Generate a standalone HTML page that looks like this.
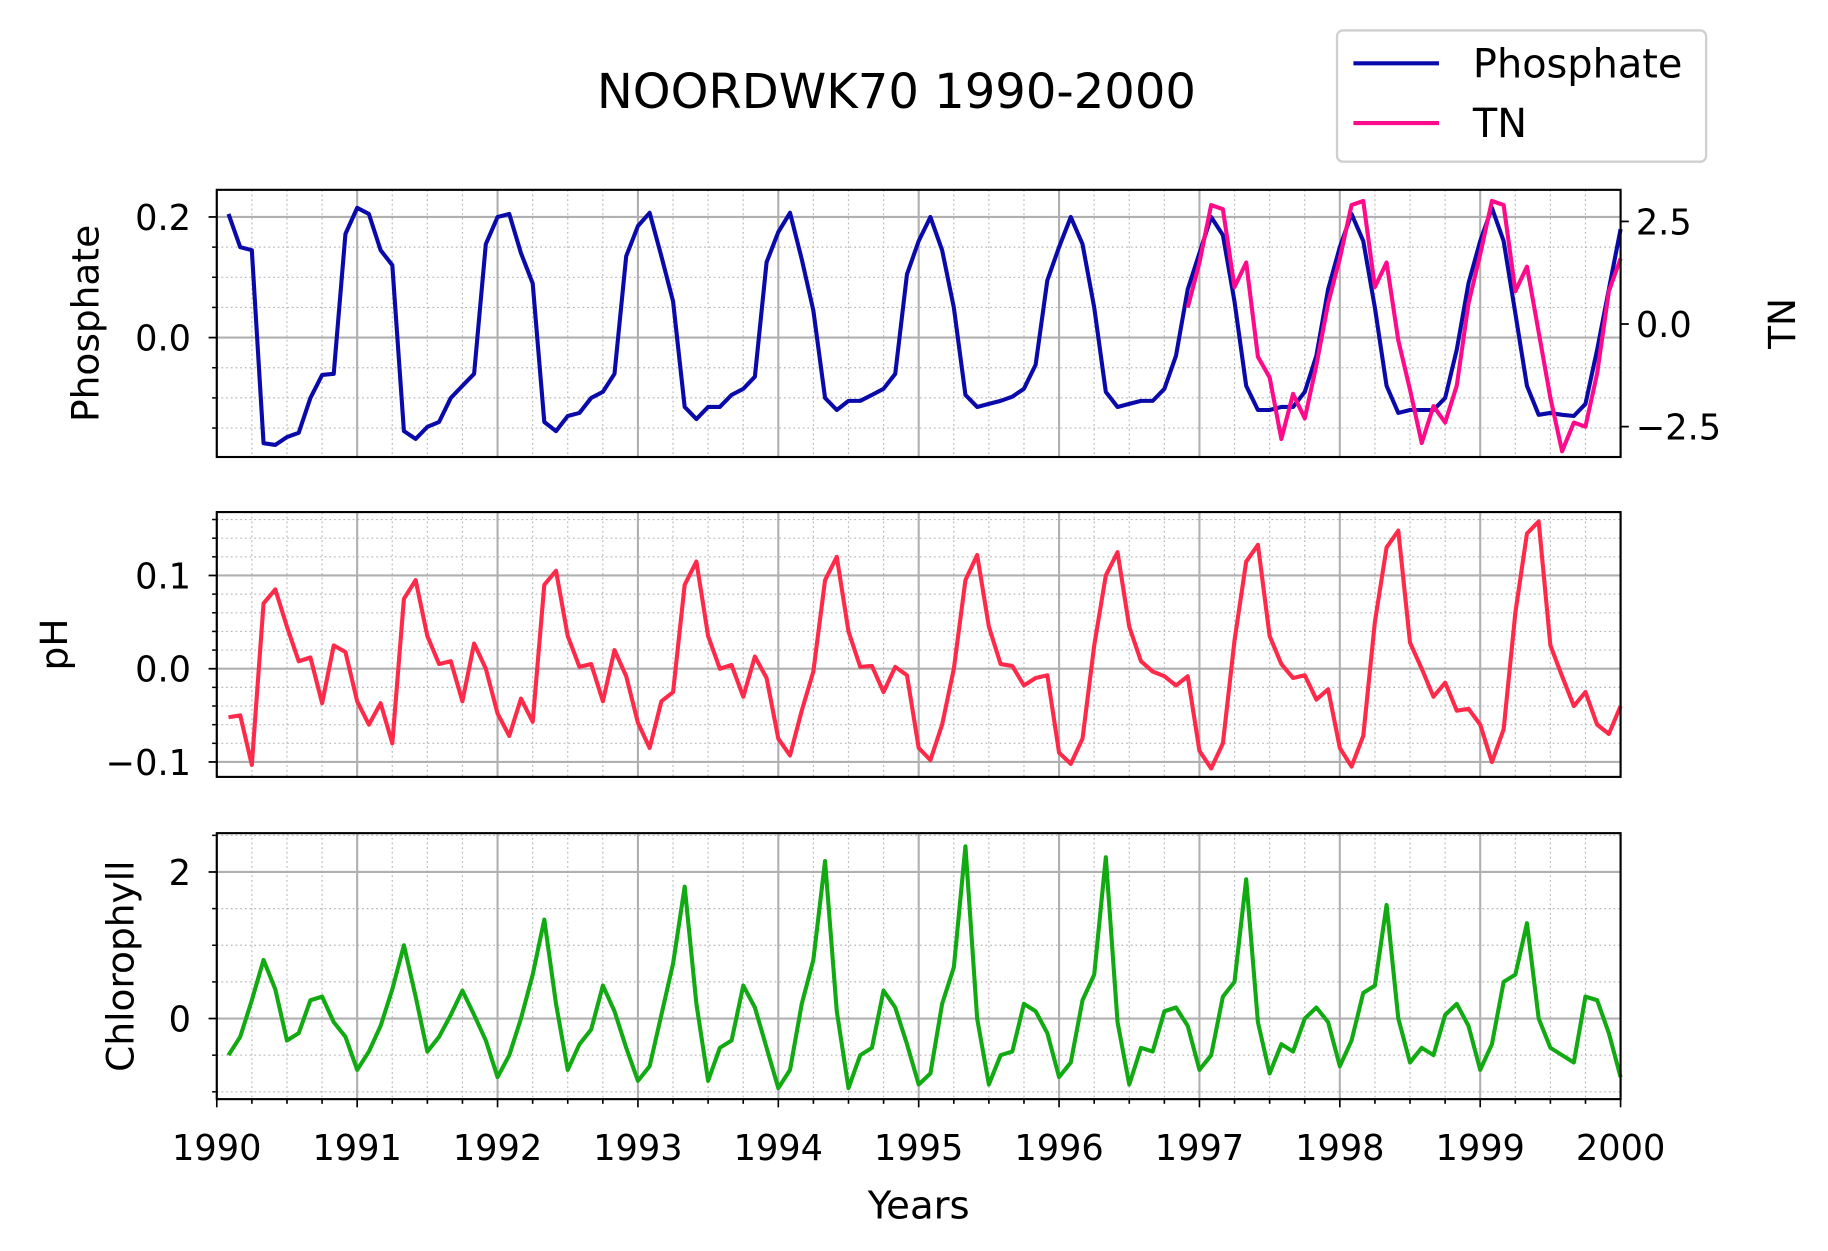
<!DOCTYPE html>
<html><head><meta charset="utf-8"><style>
html,body{margin:0;padding:0;background:#fff;}
svg{display:block;font-family:"DejaVu Sans","Liberation Sans",sans-serif;}
</style></head><body>
<svg id="chart" width="1828" height="1251" viewBox="0 0 1560 1067.6" xmlns="http://www.w3.org/2000/svg">
<text x="765" y="92" font-size="41" text-anchor="middle">NOORDWK70 1990-2000</text>
<g>
<rect x="1141" y="26" width="315" height="112" rx="5" fill="#fff" stroke="#d0d0d0" stroke-width="2"/>
<line x1="1155" y1="54" x2="1228" y2="54" stroke="#0a0aaa" stroke-width="3.5"/>
<text x="1257" y="66" font-size="34">Phosphate</text>
<line x1="1155" y1="105" x2="1228" y2="105" stroke="#ff0a8a" stroke-width="3.5"/>
<text x="1257" y="117" font-size="34">TN</text>
</g>
<g id="plots"></g>
<text x="784" y="1040" font-size="33" text-anchor="middle">Years</text>
</svg>
<script>
const phosphate=[0.205,0.15,0.145,-0.175,-0.178,-0.165,-0.158,-0.10,-0.062,-0.06,0.172,0.215,
0.205,0.145,0.12,-0.155,-0.168,-0.148,-0.14,-0.10,-0.08,-0.06,0.155,0.20,
0.205,0.14,0.09,-0.14,-0.155,-0.13,-0.125,-0.10,-0.09,-0.06,0.135,0.185,
0.207,0.135,0.06,-0.115,-0.135,-0.115,-0.115,-0.095,-0.085,-0.065,0.125,0.175,
0.207,0.13,0.045,-0.10,-0.12,-0.105,-0.105,-0.095,-0.085,-0.06,0.105,0.16,
0.20,0.145,0.05,-0.095,-0.115,-0.11,-0.105,-0.098,-0.085,-0.045,0.095,0.15,
0.20,0.155,0.05,-0.09,-0.115,-0.11,-0.105,-0.105,-0.085,-0.03,0.08,0.14,
0.20,0.17,0.06,-0.08,-0.12,-0.12,-0.115,-0.115,-0.09,-0.03,0.08,0.15,
0.205,0.16,0.05,-0.08,-0.125,-0.12,-0.12,-0.12,-0.10,-0.02,0.09,0.16,
0.215,0.16,0.04,-0.08,-0.128,-0.125,-0.128,-0.13,-0.11,-0.02,0.08,0.18];
const tnStart=83;
const tn=[0.4,1.5,2.9,2.8,0.9,1.5,-0.8,-1.3,-2.8,-1.7,-2.3,-1.0,0.5,1.6,2.9,3.0,0.9,1.5,-0.4,-1.6,-2.9,-2.0,-2.4,-1.5,0.5,1.7,3.0,2.9,0.8,1.4,-0.2,-1.8,-3.1,-2.4,-2.5,-1.2,0.8,1.6];
const ph=[-0.052,-0.05,-0.103,0.07,0.085,0.045,0.008,0.012,-0.037,0.025,0.018,-0.035,
-0.06,-0.037,-0.08,0.075,0.095,0.035,0.005,0.008,-0.035,0.027,0.0,-0.048,
-0.072,-0.032,-0.057,0.09,0.105,0.035,0.002,0.005,-0.035,0.02,-0.008,-0.058,
-0.085,-0.035,-0.025,0.09,0.115,0.035,0.0,0.004,-0.03,0.013,-0.01,-0.075,
-0.093,-0.045,-0.003,0.095,0.12,0.04,0.002,0.003,-0.025,0.002,-0.007,-0.085,
-0.098,-0.06,0.0,0.095,0.122,0.045,0.005,0.003,-0.018,-0.01,-0.007,-0.09,
-0.102,-0.075,0.025,0.1,0.125,0.045,0.008,-0.003,-0.008,-0.018,-0.008,-0.088,
-0.107,-0.08,0.03,0.115,0.133,0.035,0.005,-0.01,-0.007,-0.033,-0.022,-0.085,
-0.105,-0.072,0.05,0.13,0.148,0.028,0.0,-0.03,-0.015,-0.045,-0.043,-0.06,
-0.1,-0.065,0.06,0.145,0.158,0.025,-0.008,-0.04,-0.025,-0.06,-0.07,-0.04];
const chl=[-0.5,-0.25,0.25,0.8,0.4,-0.3,-0.2,0.25,0.3,-0.05,-0.25,-0.7,
-0.45,-0.1,0.4,1.0,0.3,-0.45,-0.25,0.05,0.38,0.05,-0.3,-0.8,
-0.5,0.0,0.6,1.35,0.2,-0.7,-0.35,-0.15,0.45,0.1,-0.4,-0.85,
-0.65,0.05,0.75,1.8,0.2,-0.85,-0.4,-0.3,0.45,0.15,-0.4,-0.95,
-0.7,0.2,0.8,2.15,0.1,-0.95,-0.5,-0.4,0.38,0.15,-0.35,-0.9,
-0.75,0.2,0.7,2.35,0.0,-0.9,-0.5,-0.45,0.2,0.1,-0.2,-0.8,
-0.6,0.25,0.6,2.2,-0.05,-0.9,-0.4,-0.45,0.1,0.15,-0.1,-0.7,
-0.5,0.3,0.5,1.9,-0.05,-0.75,-0.35,-0.45,0.0,0.15,-0.05,-0.65,
-0.3,0.35,0.45,1.55,0.0,-0.6,-0.4,-0.5,0.05,0.2,-0.1,-0.7,
-0.35,0.5,0.6,1.3,0.0,-0.4,-0.5,-0.6,0.3,0.25,-0.2,-0.8];
const yearTicks=[1990,1991,1992,1993,1994,1995,1996,1997,1998,1999,2000];
const phTicks=["0.1","0.0","\u22120.1"];

const NS="http://www.w3.org/2000/svg";
const g=document.getElementById('plots');
const X0=185,X1=1383;
const TICK_FS=30;
function xs(t){return X0+(t-1990)/10*(X1-X0);}
function mk(tag,attrs,parent){const e=document.createElementNS(NS,tag);for(const k in attrs)e.setAttribute(k,attrs[k]);(parent||g).appendChild(e);return e;}
function panel(name,top,bot,ymin,ymax,major,minor,labels,ylabel,labelX,showX){
  const ys=v=>bot-(v-ymin)/(ymax-ymin)*(bot-top);
  const pg=mk('g',{});
  
  
  for(let q=1990;q<=2000.001;q+=0.25){const x=xs(q);mk('line',{x1:x,x2:x,y1:top,y2:bot,stroke:'#b8b8b8','stroke-width':1,'stroke-dasharray':'1.5,2.5'},pg);}
  for(const v of minor){mk('line',{x1:X0,x2:X1,y1:ys(v),y2:ys(v),stroke:'#b8b8b8','stroke-width':1,'stroke-dasharray':'1.5,2.5'},pg);
    mk('line',{x1:X0-4,x2:X0,y1:ys(v),y2:ys(v),stroke:'#000','stroke-width':1.3},pg);}
  for(const y of yearTicks){const x=xs(y);mk('line',{x1:x,x2:x,y1:top,y2:bot,stroke:'#b0b0b0','stroke-width':1.8},pg);}
  major.forEach((v,i)=>{const y=ys(v);mk('line',{x1:X0,x2:X1,y1:y,y2:y,stroke:'#b0b0b0','stroke-width':1.8},pg);
    mk('line',{x1:X0-7,x2:X0,y1:y,y2:y,stroke:'#000','stroke-width':1.5},pg);
    const t=mk('text',{x:X0-22,y:y+11,'font-size':TICK_FS,'text-anchor':'end'},pg);t.textContent=labels[i];
    
    });
  if(showX){
    for(let q=1990;q<=2000.001;q+=0.25){const x=xs(q);const maj=Math.abs(q-Math.round(q))<1e-6;mk('line',{x1:x,x2:x,y1:bot,y2:bot+(maj?7:4),stroke:'#000','stroke-width':1.4},pg);}
    yearTicks.forEach(y=>{const t=mk('text',{x:xs(y),y:bot+52,'font-size':TICK_FS,'text-anchor':'middle'},pg);t.textContent=String(y);
      
      });
  }
  const yl=mk('text',{transform:`translate(${labelX},${(top+bot)/2}) rotate(-90)`,'font-size':32,'text-anchor':'middle'},pg);
  yl.textContent=ylabel;
  
  
  return {ys,pg,top,bot};
}
function series(pg,vals,start,ys,color,name){
  const pts=vals.map((v,i)=>xs(1990+(start+i)/12).toFixed(1)+','+ys(v).toFixed(1)).join(' ');
  const p=mk('polyline',{points:pts,fill:'none',stroke:color,'stroke-width':3.5,'stroke-linejoin':'round'},pg);
  
  
}
function frame(pg,top,bot){mk('rect',{x:X0,y:top,width:X1-X0,height:bot-top,fill:'none',stroke:'#000','stroke-width':1.8},pg);}

const P1=panel('phosphate',162,390,-0.198,0.245,[0.2,0.0],[0.15,0.1,0.05,-0.05,-0.1,-0.15],["0.2","0.0"],"Phosphate",84,false);
series(P1.pg,phosphate,1,P1.ys,'#0a0aaa','phosphate');
const tnY=v=>390-(v+3.24)/(3.27+3.24)*(390-162);
series(P1.pg,tn,tnStart,tnY,'#ff0a8a','tn');
frame(P1.pg,162,390);
[[2.5,"2.5"],[0,"0.0"],[-2.5,"\u22122.5"]].forEach(([v,l])=>{const y=tnY(v);
  mk('line',{x1:X1,x2:X1+7,y1:y,y2:y,stroke:'#000','stroke-width':1.5},P1.pg);
  const t=mk('text',{x:X1+13,y:y+11,'font-size':TICK_FS},P1.pg);t.textContent=l;
  
  });
const tl=mk('text',{transform:`translate(1532,276) rotate(-90)`,'font-size':32,'text-anchor':'middle'},P1.pg);tl.textContent="TN";



const P2=panel('ph',437,663,-0.116,0.168,[0.1,0.0,-0.1],[0.16,0.14,0.12,0.08,0.06,0.04,0.02,-0.02,-0.04,-0.06,-0.08],phTicks,"pH",57,false);
series(P2.pg,ph,1,P2.ys,'#ff2a4a','ph');
frame(P2.pg,437,663);

const P3=panel('chlorophyll',711,938,-1.10,2.53,[2,0],[2.5,1.5,1,0.5,-0.5,-1],["2","0"],"Chlorophyll",114,true);
series(P3.pg,chl,1,P3.ys,'#12aa12','chlorophyll');
frame(P3.pg,711,938);
</script>
</body></html>
